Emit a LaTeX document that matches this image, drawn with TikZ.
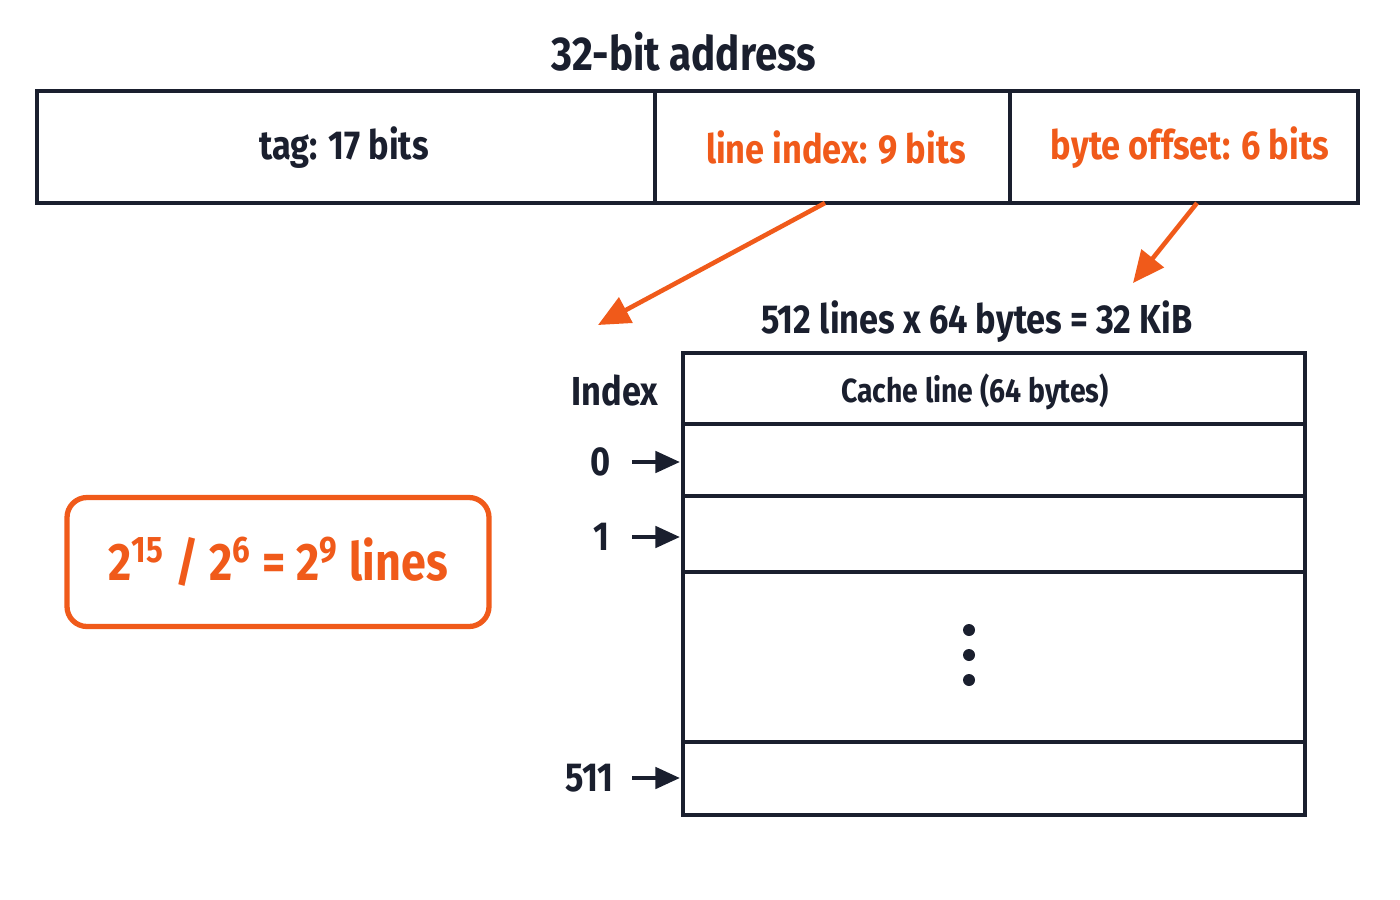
\documentclass[tikz,border=0pt]{standalone}
\usepackage{fontspec}
\setmainfont{Fira Sans}
\usetikzlibrary{arrows.meta,positioning}
\definecolor{ink}{HTML}{1A1F2E}
\definecolor{hot}{HTML}{F05A1A}
\begin{document}
\begin{tikzpicture}
        [x=0.01cm, y=-0.01cm,
         box/.style={draw=ink, line width=1.2pt},
         lbl/.style={text=ink, font=\fontsize{11.5}{14}\selectfont\addfontfeature{FakeStretch=0.85}\bfseries},
         hotlbl/.style={lbl, text=hot},
         hotarrow/.style={-{Triangle[length=9pt,width=8pt]}, draw=hot, line width=1.3pt},
         idxarrow/.style={-{Triangle[length=7pt,width=6pt]}, draw=ink, line width=1.3pt}]
        \useasboundingbox (0,0) rectangle (1400,900);
        % address fields
        \node [lbl, font=\fontsize{13.5}{16}\selectfont\addfontfeature{FakeStretch=0.85}\bfseries] (title) at (684,52) {32-bit address};
        \draw [box] (37,91) rectangle (1358,203);
        \draw [box] (655,91) -- (655,203) (1010,91) -- (1010,203);
        \node [lbl] (tag) at (344,148) {tag: 17 bits};
        \node [hotlbl] (line) at (836,148) {line index: 9 bits};
        \node [hotlbl] (offset) at (1190,148) {byte offset: 6 bits};
        \coordinate (linefoot) at (825,203);
        \coordinate (offsetfoot) at (1197,203);
        \coordinate (linetip) at (598,325);
        \coordinate (offsettip) at (1133,283);
        \draw [hotarrow] (linefoot) -- (linetip);
        \draw [hotarrow] (offsetfoot) -- (offsettip);
        % cache table
        \node [lbl] (size) at (977,322) {512 lines x 64 bytes = 32 KiB};
        \draw [box] (683,353) rectangle (1305,815);
        \foreach \y in {424,496,572,742}
            \draw [box] (683,\y) -- (1305,\y);
        \node [lbl, font=\fontsize{9.5}{12}\selectfont\addfontfeature{FakeStretch=0.85}\bfseries] (cline) at (975,392) {Cache line (64 bytes)};
        \node [lbl] (index) at (615,390) {Index};
        \node [lbl] (i0) at (601,462) {0};
        \node [lbl] (i1) at (601,537) {1};
        \node [lbl, anchor=east] (i511) at (626,778) {511};
        \foreach \n/\y in {0/462,1/537,511/778} {
            \coordinate (s\n) at (632,\y);
            \coordinate (r\n) at (680,\y);
            \draw [idxarrow] (s\n) -- (r\n);
        }
        \foreach \y in {630,655,680}
            \fill [ink] (969,\y) circle (6);
        % line count
        \node [draw=hot, line width=1.5pt, rounded corners=2mm, minimum width=422*0.01cm, minimum height=129*0.01cm,
               text=hot, font=\fontsize{15}{18}\selectfont\addfontfeature{FakeStretch=0.85}\bfseries] (count) at (278,562)
              {2\textsuperscript{15} / 2\textsuperscript{6} = 2\textsuperscript{9} lines};
    \end{tikzpicture}
\end{document}
